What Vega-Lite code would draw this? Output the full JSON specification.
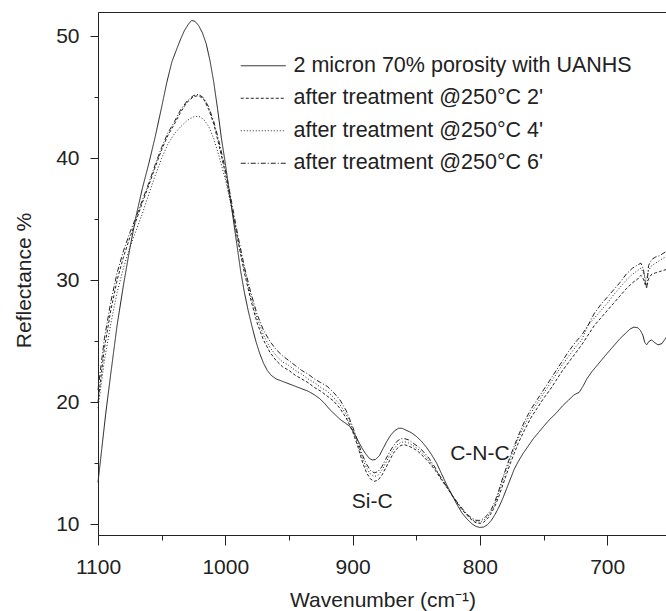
{
  "$schema": "https://vega.github.io/schema/vega-lite/v6.json",
  "width": 569,
  "height": 523,
  "autosize": {"type": "none"},
  "padding": {"left": 98, "top": 12, "right": 0, "bottom": 76},
  "background": "white",
  "config": {
    "font": "Liberation Sans",
    "view": {"stroke": "#222", "strokeWidth": 1},
    "axis": {"domainColor": "#222", "tickColor": "#222", "labelColor": "#222", "titleColor": "#222", "labelFont": "Liberation Sans", "titleFont": "Liberation Sans", "labelFontSize": 21, "titleFontSize": 21, "titleFontWeight": "normal", "grid": false, "domainWidth": 1, "tickWidth": 1, "labelFlush": false, "labelOverlap": false},
    "line": {"color": "#222", "strokeWidth": 1, "clip": true},
    "text": {"font": "Liberation Sans", "fontSize": 21, "color": "#222"}
  },
  "encoding": {
    "x": {"field": "w", "type": "quantitative", "scale": {"domain": [653, 1100], "reverse": true, "nice": false, "zero": false},
      "axis": {"values": [1100, 1050, 1000, 950, 900, 850, 800, 750, 700], "format": "d", "labelExpr": "datum.value % 100 === 0 ? datum.label : ''", "tickSize": {"condition": {"test": "datum.value % 100 === 0", "value": 10}, "value": 5}, "labelBaseline": "alphabetic", "labelPadding": 28, "title": "Wavenumber (cm⁻¹)", "titleBaseline": "alphabetic", "titleY": 71}},
    "y": {"field": "r", "type": "quantitative", "scale": {"domain": [9.1, 52], "nice": false, "zero": false},
      "axis": {"values": [10, 15, 20, 25, 30, 35, 40, 45, 50], "labelExpr": "datum.value % 10 === 0 ? datum.label : ''", "tickSize": {"condition": {"test": "datum.value % 10 === 0", "value": 8}, "value": 4}, "labelPadding": 11, "title": "Reflectance %", "titleBaseline": "middle", "titleX": -74, "titleY": 268}}
  },
  "layer": [
    {
      "data": {"values": [
        {"w":1100,"r":13.4},{"w":1097,"r":16.2},{"w":1094,"r":19.0},{"w":1090,"r":22.3},{"w":1085,"r":26.3},{"w":1080,"r":29.6},{"w":1075,"r":32.6},{"w":1070,"r":35.3},{"w":1065,"r":37.6},{"w":1060,"r":39.6},{"w":1055,"r":41.8},{"w":1050,"r":44.2},{"w":1046,"r":46.2},{"w":1042,"r":47.9},{"w":1038,"r":49.0},{"w":1035,"r":49.8},{"w":1032,"r":50.5},{"w":1029,"r":51.0},{"w":1026.5,"r":51.3},{"w":1024,"r":51.25},{"w":1021,"r":50.9},{"w":1018,"r":50.3},{"w":1015,"r":49.4},{"w":1012,"r":48.0},{"w":1009,"r":46.2},{"w":1006,"r":44.0},{"w":1003,"r":41.6},{"w":1000,"r":39.6},{"w":997,"r":37.4},{"w":994,"r":35.2},{"w":991,"r":33.0},{"w":988,"r":30.8},{"w":985,"r":29.0},{"w":982,"r":27.5},{"w":979,"r":26.2},{"w":976,"r":25.0},{"w":973,"r":24.0},{"w":970,"r":23.2},{"w":967,"r":22.6},{"w":964,"r":22.2},{"w":960,"r":21.9},{"w":955,"r":21.7},{"w":950,"r":21.5},{"w":945,"r":21.3},{"w":940,"r":21.1},{"w":935,"r":20.9},{"w":930,"r":20.6},{"w":926,"r":20.3},{"w":922,"r":19.9},{"w":918,"r":19.4},{"w":914,"r":19.0},{"w":910,"r":18.6},{"w":906,"r":18.3},{"w":902,"r":18.0},{"w":899,"r":17.5},{"w":896,"r":16.9},{"w":893,"r":16.3},{"w":890,"r":15.8},{"w":887,"r":15.4},{"w":884.5,"r":15.25},{"w":882,"r":15.3},{"w":879,"r":15.6},{"w":876,"r":16.2},{"w":873,"r":16.8},{"w":870,"r":17.3},{"w":867,"r":17.65},{"w":864,"r":17.85},{"w":861,"r":17.85},{"w":858,"r":17.7},{"w":854,"r":17.5},{"w":850,"r":17.2},{"w":846,"r":16.8},{"w":842,"r":16.3},{"w":838,"r":15.7},{"w":834,"r":15.0},{"w":830,"r":14.1},{"w":826,"r":13.2},{"w":822,"r":12.4},{"w":818,"r":11.6},{"w":814,"r":10.9},{"w":810,"r":10.4},{"w":806,"r":10.0},{"w":803,"r":9.8},{"w":800,"r":9.72},{"w":797,"r":9.75},{"w":794,"r":9.95},{"w":791,"r":10.3},{"w":788,"r":10.8},{"w":785,"r":11.4},{"w":782,"r":12.1},{"w":779,"r":12.9},{"w":776,"r":13.7},{"w":773,"r":14.5},{"w":770,"r":15.1},{"w":766,"r":15.8},{"w":762,"r":16.4},{"w":758,"r":17.0},{"w":754,"r":17.5},{"w":750,"r":18.0},{"w":745,"r":18.6},{"w":740,"r":19.1},{"w":735,"r":19.7},{"w":730,"r":20.2},{"w":726,"r":20.6},{"w":722,"r":20.8},{"w":719,"r":21.3},{"w":716,"r":21.9},{"w":712,"r":22.5},{"w":708,"r":23.0},{"w":704,"r":23.5},{"w":700,"r":24.0},{"w":695,"r":24.6},{"w":690,"r":25.2},{"w":686,"r":25.6},{"w":682,"r":26.0},{"w":679,"r":26.15},{"w":676,"r":26.1},{"w":674,"r":25.9},{"w":672,"r":25.5},{"w":670.5,"r":24.9},{"w":669,"r":24.7},{"w":667,"r":25.0},{"w":665,"r":25.1},{"w":663,"r":24.9},{"w":660,"r":24.7},{"w":657,"r":24.8},{"w":655,"r":25.1},{"w":653,"r":25.4}
      ]},
      "mark": {"type": "line", "strokeWidth": 1},
      "encoding": {
        "order": {"field": "w", "type": "quantitative", "sort": "descending"},
        "strokeDash": {"datum": "2 micron 70% porosity with UANHS", "type": "nominal",
          "scale": {"domain": ["2 micron 70% porosity with UANHS", "after treatment @250°C 2'", "after treatment @250°C 4'", "after treatment @250°C 6'"], "range": [[1, 0], [3, 2], [1, 2], [5, 2, 1, 2]]},
          "legend": {"orient": "none", "legendX": 154.5, "legendY": 43, "title": null, "symbolType": "M-5,0H5", "symbolSize": 81, "symbolStrokeWidth": 1, "symbolStrokeColor": "#222", "labelFont": "Liberation Sans", "labelFontSize": 21.5, "labelColor": "#222", "labelOffset": 19.5, "rowPadding": 9.5, "padding": 0, "labelLimit": 500}}
      }
    },
    {
      "data": {"values": [
        {"w":1100,"r":20.0},{"w":1095,"r":24.4},{"w":1090,"r":27.5},{"w":1085,"r":30.0},{"w":1080,"r":31.9},{"w":1075,"r":33.5},{"w":1070,"r":34.9},{"w":1065,"r":36.4},{"w":1060,"r":37.8},{"w":1055,"r":39.3},{"w":1050,"r":40.7},{"w":1045,"r":41.9},{"w":1040,"r":42.8},{"w":1035,"r":43.8},{"w":1030,"r":44.6},{"w":1025,"r":45.05},{"w":1021,"r":45.15},{"w":1017,"r":44.85},{"w":1013,"r":44.0},{"w":1009,"r":42.8},{"w":1005,"r":41.1},{"w":1000,"r":38.8},{"w":995,"r":36.0},{"w":990,"r":33.2},{"w":985,"r":30.6},{"w":980,"r":28.4},{"w":975,"r":26.5},{"w":970,"r":25.1},{"w":965,"r":24.1},{"w":960,"r":23.4},{"w":955,"r":22.9},{"w":950,"r":22.6},{"w":945,"r":22.2},{"w":940,"r":21.9},{"w":935,"r":21.6},{"w":930,"r":21.2},{"w":925,"r":20.9},{"w":920,"r":20.5},{"w":915,"r":20.1},{"w":910,"r":19.5},{"w":905,"r":18.7},{"w":900,"r":17.6},{"w":896,"r":16.4},{"w":892,"r":15.0},{"w":889,"r":14.2},{"w":886,"r":13.7},{"w":883,"r":13.5},{"w":880,"r":13.6},{"w":877,"r":14.0},{"w":874,"r":14.6},{"w":871,"r":15.2},{"w":868,"r":15.8},{"w":865,"r":16.2},{"w":862,"r":16.45},{"w":859,"r":16.5},{"w":856,"r":16.4},{"w":852,"r":16.2},{"w":848,"r":15.9},{"w":844,"r":15.5},{"w":840,"r":15.05},{"w":835,"r":14.4},{"w":830,"r":13.6},{"w":825,"r":12.85},{"w":820,"r":12.05},{"w":815,"r":11.3},{"w":810,"r":10.7},{"w":806,"r":10.3},{"w":803,"r":10.1},{"w":800,"r":10.05},{"w":797,"r":10.15},{"w":794,"r":10.45},{"w":791,"r":10.9},{"w":788,"r":11.5},{"w":785,"r":12.3},{"w":782,"r":13.2},{"w":779,"r":14.1},{"w":776,"r":15.0},{"w":773,"r":15.8},{"w":770,"r":16.6},{"w":765,"r":17.7},{"w":760,"r":18.7},{"w":755,"r":19.5},{"w":750,"r":20.3},{"w":745,"r":21.0},{"w":740,"r":21.8},{"w":735,"r":22.6},{"w":730,"r":23.3},{"w":725,"r":24.0},{"w":720,"r":24.7},{"w":715,"r":25.5},{"w":710,"r":26.3},{"w":705,"r":26.9},{"w":700,"r":27.5},{"w":695,"r":28.1},{"w":690,"r":28.7},{"w":685,"r":29.3},{"w":680,"r":29.8},{"w":676,"r":30.1},{"w":673.5,"r":30.4},{"w":671.5,"r":30.1},{"w":670,"r":29.6},{"w":669,"r":29.5},{"w":667.5,"r":30.1},{"w":665,"r":30.5},{"w":662,"r":30.6},{"w":659,"r":30.7},{"w":656,"r":30.8},{"w":653,"r":30.9}
      ]},
      "mark": {"type": "line", "strokeWidth": 1},
      "encoding": {
        "order": {"field": "w", "type": "quantitative", "sort": "descending"},
        "strokeDash": {"datum": "after treatment @250°C 2'", "type": "nominal"}
      }
    },
    {
      "data": {"values": [
        {"w":1100,"r":19.5},{"w":1095,"r":23.4},{"w":1090,"r":26.4},{"w":1085,"r":29.0},{"w":1080,"r":31.0},{"w":1075,"r":32.7},{"w":1070,"r":34.1},{"w":1065,"r":35.5},{"w":1060,"r":37.1},{"w":1055,"r":38.6},{"w":1050,"r":40.0},{"w":1045,"r":41.2},{"w":1040,"r":42.0},{"w":1035,"r":42.6},{"w":1030,"r":43.1},{"w":1025,"r":43.4},{"w":1021,"r":43.45},{"w":1017,"r":43.2},{"w":1013,"r":42.6},{"w":1009,"r":41.6},{"w":1005,"r":40.2},{"w":1000,"r":38.3},{"w":995,"r":35.9},{"w":990,"r":33.3},{"w":985,"r":30.9},{"w":980,"r":28.7},{"w":975,"r":26.9},{"w":970,"r":25.5},{"w":965,"r":24.5},{"w":960,"r":23.8},{"w":955,"r":23.3},{"w":950,"r":23.0},{"w":945,"r":22.6},{"w":940,"r":22.3},{"w":935,"r":21.9},{"w":930,"r":21.6},{"w":925,"r":21.2},{"w":920,"r":20.9},{"w":915,"r":20.4},{"w":910,"r":19.8},{"w":905,"r":19.0},{"w":900,"r":17.8},{"w":896,"r":16.6},{"w":892,"r":15.3},{"w":889,"r":14.6},{"w":886,"r":14.1},{"w":883,"r":13.9},{"w":880,"r":14.0},{"w":877,"r":14.4},{"w":874,"r":15.0},{"w":871,"r":15.6},{"w":868,"r":16.1},{"w":865,"r":16.5},{"w":862,"r":16.7},{"w":859,"r":16.75},{"w":856,"r":16.65},{"w":852,"r":16.4},{"w":848,"r":16.1},{"w":844,"r":15.7},{"w":840,"r":15.2},{"w":835,"r":14.5},{"w":830,"r":13.7},{"w":825,"r":12.9},{"w":820,"r":12.1},{"w":815,"r":11.35},{"w":810,"r":10.75},{"w":806,"r":10.35},{"w":803,"r":10.2},{"w":800,"r":10.15},{"w":797,"r":10.3},{"w":794,"r":10.6},{"w":791,"r":11.05},{"w":788,"r":11.7},{"w":785,"r":12.6},{"w":782,"r":13.6},{"w":779,"r":14.5},{"w":776,"r":15.4},{"w":773,"r":16.2},{"w":770,"r":17.0},{"w":765,"r":18.1},{"w":760,"r":19.1},{"w":755,"r":19.9},{"w":750,"r":20.7},{"w":745,"r":21.5},{"w":740,"r":22.3},{"w":735,"r":23.1},{"w":730,"r":23.8},{"w":725,"r":24.5},{"w":720,"r":25.1},{"w":715,"r":26.3},{"w":710,"r":26.9},{"w":705,"r":27.5},{"w":700,"r":28.1},{"w":695,"r":28.8},{"w":690,"r":29.4},{"w":685,"r":30.0},{"w":680,"r":30.5},{"w":676,"r":30.8},{"w":673.5,"r":31.0},{"w":671.5,"r":30.6},{"w":670,"r":30.2},{"w":669,"r":30.1},{"w":667.5,"r":30.8},{"w":665,"r":31.2},{"w":662,"r":31.4},{"w":659,"r":31.6},{"w":656,"r":31.8},{"w":653,"r":31.95}
      ]},
      "mark": {"type": "line", "strokeWidth": 1},
      "encoding": {
        "order": {"field": "w", "type": "quantitative", "sort": "descending"},
        "strokeDash": {"datum": "after treatment @250°C 4'", "type": "nominal"}
      }
    },
    {
      "data": {"values": [
        {"w":1100,"r":21.0},{"w":1095,"r":25.2},{"w":1090,"r":28.2},{"w":1085,"r":30.6},{"w":1080,"r":32.4},{"w":1075,"r":33.9},{"w":1070,"r":35.2},{"w":1065,"r":36.6},{"w":1060,"r":38.0},{"w":1055,"r":39.5},{"w":1050,"r":40.9},{"w":1045,"r":42.1},{"w":1040,"r":43.0},{"w":1035,"r":44.0},{"w":1030,"r":44.7},{"w":1025,"r":45.15},{"w":1021,"r":45.25},{"w":1017,"r":44.95},{"w":1013,"r":44.2},{"w":1009,"r":43.0},{"w":1005,"r":41.4},{"w":1000,"r":39.1},{"w":995,"r":36.4},{"w":990,"r":33.6},{"w":985,"r":31.1},{"w":980,"r":29.0},{"w":975,"r":27.2},{"w":970,"r":25.9},{"w":965,"r":25.0},{"w":960,"r":24.3},{"w":955,"r":23.8},{"w":950,"r":23.4},{"w":945,"r":23.0},{"w":940,"r":22.6},{"w":935,"r":22.3},{"w":930,"r":21.9},{"w":925,"r":21.6},{"w":920,"r":21.3},{"w":915,"r":20.8},{"w":910,"r":20.2},{"w":905,"r":19.3},{"w":900,"r":18.0},{"w":896,"r":16.8},{"w":892,"r":15.6},{"w":889,"r":14.9},{"w":886,"r":14.4},{"w":883,"r":14.2},{"w":880,"r":14.3},{"w":877,"r":14.7},{"w":874,"r":15.3},{"w":871,"r":15.9},{"w":868,"r":16.4},{"w":865,"r":16.8},{"w":862,"r":17.0},{"w":859,"r":17.0},{"w":856,"r":16.9},{"w":852,"r":16.6},{"w":848,"r":16.3},{"w":844,"r":15.9},{"w":840,"r":15.4},{"w":835,"r":14.6},{"w":830,"r":13.7},{"w":825,"r":12.9},{"w":820,"r":12.1},{"w":815,"r":11.4},{"w":810,"r":10.8},{"w":806,"r":10.45},{"w":803,"r":10.3},{"w":800,"r":10.3},{"w":797,"r":10.45},{"w":794,"r":10.75},{"w":791,"r":11.2},{"w":788,"r":11.9},{"w":785,"r":12.8},{"w":782,"r":13.8},{"w":779,"r":14.7},{"w":776,"r":15.6},{"w":773,"r":16.4},{"w":770,"r":17.2},{"w":765,"r":18.4},{"w":760,"r":19.4},{"w":755,"r":20.2},{"w":750,"r":21.0},{"w":745,"r":21.8},{"w":740,"r":22.6},{"w":735,"r":23.4},{"w":730,"r":24.2},{"w":725,"r":24.9},{"w":720,"r":25.5},{"w":715,"r":26.3},{"w":710,"r":27.3},{"w":705,"r":28.0},{"w":700,"r":28.6},{"w":695,"r":29.2},{"w":690,"r":29.8},{"w":685,"r":30.5},{"w":680,"r":31.0},{"w":676,"r":31.25},{"w":673.5,"r":31.4},{"w":671.5,"r":30.9},{"w":670,"r":29.8},{"w":669,"r":29.3},{"w":667.5,"r":31.2},{"w":665,"r":31.7},{"w":662,"r":31.9},{"w":659,"r":32.0},{"w":656,"r":32.2},{"w":653,"r":32.4}
      ]},
      "mark": {"type": "line", "strokeWidth": 1},
      "encoding": {
        "order": {"field": "w", "type": "quantitative", "sort": "descending"},
        "strokeDash": {"datum": "after treatment @250°C 6'", "type": "nominal"}
      }
    },
    {
      "data": {"values": [
        {"w": 884.6, "r": 11.8, "t": "Si-C"},
        {"w": 800, "r": 15.75, "t": "C-N-C"}
      ]},
      "mark": {"type": "text", "align": "center", "baseline": "middle"},
      "encoding": {"text": {"field": "t", "type": "nominal"}}
    }
  ]
}
